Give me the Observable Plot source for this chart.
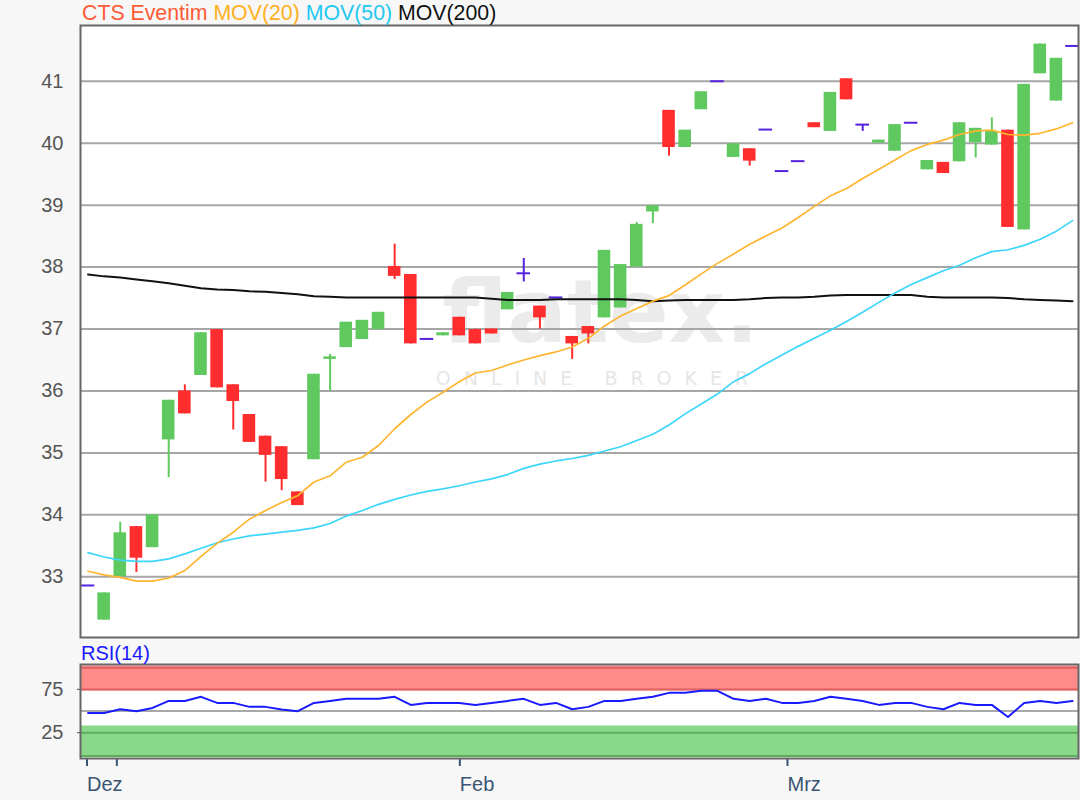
<!DOCTYPE html>
<html>
<head>
<meta charset="utf-8">
<script src="https://cdn.jsdelivr.net/npm/d3@7"></script>
<script src="https://cdn.jsdelivr.net/npm/@observablehq/plot@0.6"></script>
<style>
  body { margin: 0; background: #f7f7f7; font-family: "Liberation Sans", Arial, sans-serif; }
  #wrap { position: relative; width: 1080px; height: 800px; overflow: hidden; background: #f7f7f7; }
  #main { position: absolute; left: 0; top: 0; }
  #rsi { position: absolute; left: 0; top: 640px; }
  #title { position: absolute; left: 82px; top: 2px; font-size: 21.3px; line-height: 22px; white-space: nowrap; }
  #rsiLabel { position: absolute; left: 81px; top: 643px; font-size: 20px; line-height: 20px; color: #1a1aff; }
</style>
</head>
<body>
<div id="wrap">
  <div id="main"></div>
  <div id="rsi"></div>
  <div id="title"><span style="color:#ff5a36">CTS Eventim</span> <span style="color:#ffb020">MOV(20)</span> <span style="color:#22c8f0">MOV(50)</span> <span style="color:#111">MOV(200)</span></div>
  <div id="rsiLabel">RSI(14)</div>
</div>
<script>
// ---------------- data (one entry per trading day, index 0..61) ----------------
const open  = [32.86,32.30,33.00,33.81,33.47,35.21,36.00,36.25,36.99,36.10,35.62,35.27,35.10,34.37,34.89,36.51,36.70,36.83,36.99,38.01,37.88,36.84,36.89,37.19,36.99,37.00,37.31,37.90,37.37,37.51,36.88,37.04,37.18,37.34,38.00,38.89,40.53,39.93,40.54,41.00,39.77,39.91,40.22,39.55,39.71,40.33,40.19,41.04,40.30,40.00,39.87,40.33,39.57,39.69,39.70,40.01,39.97,40.21,38.60,41.12,40.68,41.57];
const close = [32.86,32.74,33.71,33.30,34.00,35.85,35.63,36.94,36.05,35.83,35.17,34.96,34.57,34.15,36.27,36.55,37.11,37.14,37.27,37.85,36.76,36.84,36.94,36.89,36.76,36.92,37.59,37.90,37.18,37.51,36.76,36.92,38.27,38.04,38.69,38.99,39.93,40.21,40.83,41.00,39.99,39.71,40.22,39.55,39.71,40.25,40.82,40.70,40.30,40.05,40.30,40.33,39.72,39.51,40.33,40.24,40.19,38.64,40.95,41.60,41.37,41.57];
const high  = [32.86,32.74,33.88,33.81,34.00,35.85,36.10,36.94,36.99,36.10,35.62,35.27,35.10,34.37,36.27,36.59,37.11,37.14,37.27,38.37,37.88,36.84,36.94,37.19,37.00,37.00,37.59,38.14,37.37,37.51,36.88,37.04,38.27,38.04,38.72,38.99,40.53,40.21,40.83,41.00,39.99,39.91,40.22,39.55,39.71,40.33,40.82,41.04,40.30,40.05,40.30,40.33,39.72,39.69,40.33,40.24,40.41,40.21,40.95,41.60,41.37,41.57];
const low   = [32.86,32.30,33.00,33.07,33.47,34.60,35.63,36.25,36.05,35.37,35.17,34.53,34.39,34.15,34.89,36.00,36.70,36.83,36.99,37.80,36.76,36.84,36.89,36.89,36.76,36.92,37.31,37.76,37.00,37.51,36.51,36.76,37.18,37.34,38.00,38.70,39.79,39.93,40.54,41.00,39.77,39.63,40.22,39.55,39.71,40.25,40.19,40.70,40.19,40.00,39.87,40.33,39.57,39.51,39.70,39.76,39.97,38.64,38.60,41.12,40.68,41.57];
const mov20  = [33.09,33.03,32.99,32.93,32.93,32.98,33.10,33.33,33.54,33.72,33.93,34.07,34.20,34.31,34.53,34.63,34.85,34.93,35.12,35.39,35.62,35.82,35.98,36.15,36.29,36.33,36.42,36.50,36.57,36.63,36.71,36.85,37.05,37.21,37.33,37.45,37.54,37.71,37.89,38.06,38.21,38.37,38.50,38.63,38.80,38.98,39.15,39.27,39.43,39.58,39.73,39.88,39.98,40.05,40.14,40.20,40.21,40.14,40.13,40.16,40.23,40.33];
const mov50  = [33.39,33.32,33.27,33.25,33.25,33.29,33.37,33.46,33.55,33.61,33.66,33.69,33.72,33.75,33.79,33.86,33.98,34.07,34.17,34.25,34.32,34.38,34.42,34.47,34.53,34.58,34.65,34.75,34.82,34.87,34.91,34.96,35.03,35.10,35.20,35.30,35.45,35.63,35.79,35.95,36.15,36.28,36.44,36.58,36.72,36.85,36.98,37.12,37.27,37.43,37.58,37.72,37.83,37.94,38.03,38.15,38.25,38.28,38.35,38.45,38.58,38.75];
const mov200 = [37.88,37.85,37.83,37.80,37.77,37.74,37.70,37.66,37.64,37.63,37.61,37.60,37.58,37.56,37.53,37.52,37.51,37.51,37.51,37.51,37.51,37.51,37.51,37.51,37.51,37.49,37.47,37.47,37.47,37.48,37.48,37.48,37.48,37.48,37.47,37.45,37.46,37.47,37.47,37.47,37.47,37.48,37.50,37.51,37.51,37.52,37.54,37.55,37.55,37.55,37.55,37.55,37.52,37.51,37.51,37.51,37.51,37.50,37.48,37.47,37.46,37.45];
const rsi14  = [47.8,47.8,52.1,49.8,53.6,61.7,61.7,66.4,59.4,59.4,54.8,54.8,51.7,49.8,59.4,61.7,64.1,64.1,64.1,66.4,57.1,59.4,59.4,59.4,57.1,59.4,61.7,64.1,57.1,59.4,52.1,54.8,61.7,61.7,64.1,66.4,71.0,71.0,73.4,73.4,64.1,61.7,64.1,59.4,59.4,61.7,66.4,64.1,61.7,57.1,59.4,59.4,54.8,52.1,59.4,57.1,57.1,43.1,59.4,61.7,59.4,61.7];
const priceTicks = [33,34,35,36,37,38,39,40,41];
const rsiTicks = [25, 75];
const monthTickPos = [0, 1.85, 23.1, 43.4];        // month starts in trading-day units
const monthTickLabels = ["Dez", "", "Feb", "Mrz"];
const overbought = [{lo: 73.4, hi: 102}];
const oversold = [{lo: -3, hi: 32.7}];
const obLines = [100, 75];
const osLines = [25, -2];

// ---------------- styles ----------------
const GREEN = "#5fc95f", RED = "#ff2d2d", PURPLE = "#5522dd";
const HW = 0.39, DW = 0.42;
const xDomain = [-0.465, 61.37];
const FONT = "Liberation Sans, Arial, sans-serif";

const rows = open.map((o, i) => ({i, o, c: close[i], h: high[i], l: low[i], m20: mov20[i], m50: mov50[i], m200: mov200[i], rsi: rsi14[i]}));
const ups = rows.filter(d => d.c > d.o);
const downs = rows.filter(d => d.c < d.o);
const flats = rows.filter(d => d.c === d.o);
const tickLabel = new Map(monthTickPos.map((p, k) => [p, monthTickLabels[k]]));

const main = Plot.plot({
  width: 1080, height: 640,
  marginLeft: 80, marginRight: 2, marginTop: 25, marginBottom: 3,
  style: {background: "transparent", fontFamily: FONT, fontSize: "20px", overflow: "visible"},
  x: {domain: xDomain, axis: null, label: null},
  y: {domain: [32.02, 41.9], axis: null, label: null},
  marks: [
    Plot.frame({fill: "white"}),
    Plot.text(["flatex."], {frameAnchor: "middle", dx: 21, dy: -18, fontSize: 88, fontWeight: "bold", fill: "#ebebeb", fontFamily: "DejaVu Sans"}),
    Plot.text(["ONLINE BROKER"], {frameAnchor: "middle", dx: 19, dy: 47, fontSize: 19, fill: "#e6e6e6", fontFamily: "DejaVu Sans"}),
    Plot.ruleY(priceTicks, {stroke: "#a6a6a6", strokeWidth: 2}),
    Plot.axisY(priceTicks, {tickSize: 0, tickPadding: 17, color: "#555", fontSize: 20, tickFormat: d => String(d), label: null}),
    Plot.ruleX(ups, {x: "i", y1: "l", y2: "h", stroke: GREEN, strokeWidth: 2, clip: true}),
    Plot.ruleX(downs, {x: "i", y1: "l", y2: "h", stroke: RED, strokeWidth: 2, clip: true}),
    Plot.ruleX(flats, {x: "i", y1: "l", y2: "h", stroke: PURPLE, strokeWidth: 2, clip: true}),
    Plot.rect(ups, {x1: d => d.i - HW, x2: d => d.i + HW, y1: "o", y2: "c", fill: GREEN, clip: true}),
    Plot.rect(downs, {x1: d => d.i - HW, x2: d => d.i + HW, y1: "o", y2: "c", fill: RED, clip: true}),
    Plot.ruleY(flats, {y: "c", x1: d => d.i - DW, x2: d => d.i + DW, stroke: PURPLE, strokeWidth: 2, clip: true}),
    Plot.line(rows, {x: "i", y: "m200", stroke: "#111", strokeWidth: 2, clip: true}),
    Plot.line(rows, {x: "i", y: "m50", stroke: "#3dd6fb", strokeWidth: 1.7, clip: true}),
    Plot.line(rows, {x: "i", y: "m20", stroke: "#ffb530", strokeWidth: 1.7, clip: true}),
    Plot.frame({stroke: "#666", strokeWidth: 2})
  ]
});
document.getElementById("main").append(main);
d3.select(main).selectAll("text").filter(function() { return this.textContent === "ONLINE BROKER"; })
  .style("letter-spacing", "13px");

const rsiChart = Plot.plot({
  width: 1080, height: 160,
  marginLeft: 80, marginRight: 2, marginTop: 24, marginBottom: 42,
  style: {background: "transparent", fontFamily: FONT, fontSize: "20px", overflow: "visible"},
  x: {domain: xDomain, axis: null, label: null},
  y: {domain: [-4.9, 103.8], axis: null, label: null},
  marks: [
    Plot.frame({fill: "white"}),
    Plot.rect(overbought, {x1: () => xDomain[0], x2: () => xDomain[1], y1: "lo", y2: "hi", fill: "#ff8a8a", clip: true}),
    Plot.rect(oversold, {x1: () => xDomain[0], x2: () => xDomain[1], y1: "lo", y2: "hi", fill: "#8ad88a", clip: true}),
    Plot.ruleY(obLines, {stroke: "#dd5f5f", strokeWidth: 2}),
    Plot.ruleY(osLines, {stroke: "#5cb05c", strokeWidth: 2}),
    Plot.ruleY([50], {stroke: "#a8a8a8", strokeWidth: 2}),
    Plot.line(rows, {x: "i", y: "rsi", stroke: "#1a1aff", strokeWidth: 2, clip: true}),
    Plot.axisY(rsiTicks, {tickSize: 3, tickPadding: 14, color: "#555", fontSize: 20, tickFormat: d => String(d), label: null}),
    Plot.axisX(monthTickPos, {anchor: "bottom", tickSize: 8, tickPadding: 10, strokeWidth: 2, label: null,
      tickFormat: d => tickLabel.get(d), textAnchor: "start", dx: -1, color: "#3a5573", fontSize: 20}),
    Plot.frame({stroke: "#666", strokeWidth: 2})
  ]
});
document.getElementById("rsi").append(rsiChart);
</script>
</body>
</html>
